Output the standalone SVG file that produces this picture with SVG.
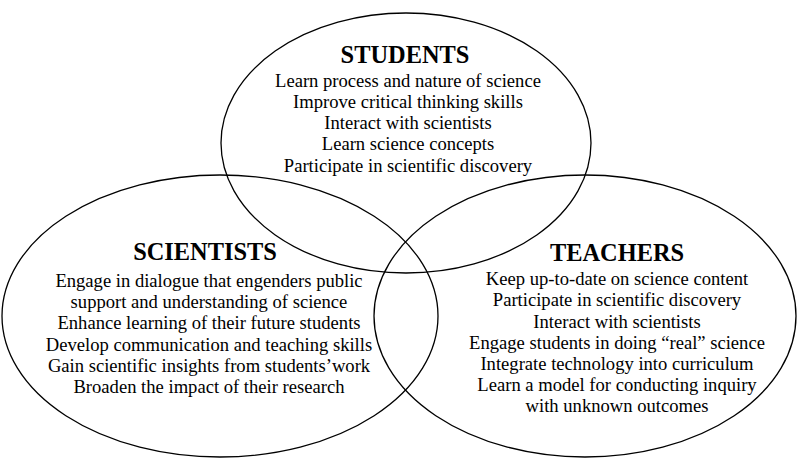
<svg xmlns="http://www.w3.org/2000/svg" width="797" height="460" viewBox="0 0 797 460">
<rect width="797" height="460" fill="#fff"/>
<defs>
<style>
.e{fill:none;stroke:#000;stroke-width:1.3}
</style>
</defs>
<g id="students">
<ellipse class="e" cx="406" cy="143" rx="185" ry="130"/>
<text x="405" y="63" font-family="Liberation Serif" font-size="24.4" font-weight="bold" text-anchor="middle">STUDENTS</text>
<text x="408" y="87" font-family="Liberation Serif" font-size="18.6" text-anchor="middle">Learn process and nature of science</text>
<text x="408" y="108" font-family="Liberation Serif" font-size="18.6" text-anchor="middle">Improve critical thinking skills</text>
<text x="408" y="129" font-family="Liberation Serif" font-size="18.6" text-anchor="middle">Interact with scientists</text>
<text x="408" y="150" font-family="Liberation Serif" font-size="18.6" text-anchor="middle">Learn science concepts</text>
<text x="408" y="172" font-family="Liberation Serif" font-size="18.6" text-anchor="middle">Participate in scientific discovery</text>
</g>
<g id="scientists">
<ellipse class="e" cx="220" cy="316" rx="218" ry="141"/>
<text x="205" y="260" font-family="Liberation Serif" font-size="24.4" font-weight="bold" text-anchor="middle">SCIENTISTS</text>
<text x="209" y="287" font-family="Liberation Serif" font-size="18.6" text-anchor="middle">Engage in dialogue that engenders public</text>
<text x="209" y="308" font-family="Liberation Serif" font-size="18.6" text-anchor="middle">support and understanding of science</text>
<text x="209" y="329" font-family="Liberation Serif" font-size="18.6" text-anchor="middle">Enhance learning of their future students</text>
<text x="209" y="351" font-family="Liberation Serif" font-size="18.6" text-anchor="middle">Develop communication and teaching skills</text>
<text x="209" y="372" font-family="Liberation Serif" font-size="18.6" text-anchor="middle">Gain scientific insights from students’work</text>
<text x="209" y="393" font-family="Liberation Serif" font-size="18.6" text-anchor="middle">Broaden the impact of their research</text>
</g>
<g id="teachers">
<ellipse class="e" cx="585" cy="316" rx="211" ry="141"/>
<text x="617" y="261" font-family="Liberation Serif" font-size="24.4" font-weight="bold" text-anchor="middle">TEACHERS</text>
<text x="617" y="285" font-family="Liberation Serif" font-size="18.6" text-anchor="middle">Keep up-to-date on science content</text>
<text x="617" y="306" font-family="Liberation Serif" font-size="18.6" text-anchor="middle">Participate in scientific discovery</text>
<text x="617" y="328" font-family="Liberation Serif" font-size="18.6" text-anchor="middle">Interact with scientists</text>
<text x="617" y="349" font-family="Liberation Serif" font-size="18.6" text-anchor="middle">Engage students in doing “real” science</text>
<text x="617" y="370" font-family="Liberation Serif" font-size="18.6" text-anchor="middle">Integrate technology into curriculum</text>
<text x="617" y="391" font-family="Liberation Serif" font-size="18.6" text-anchor="middle">Learn a model for conducting inquiry</text>
<text x="617" y="412" font-family="Liberation Serif" font-size="18.6" text-anchor="middle">with unknown outcomes</text>
</g>
<g id="connectors"></g>
</svg>
